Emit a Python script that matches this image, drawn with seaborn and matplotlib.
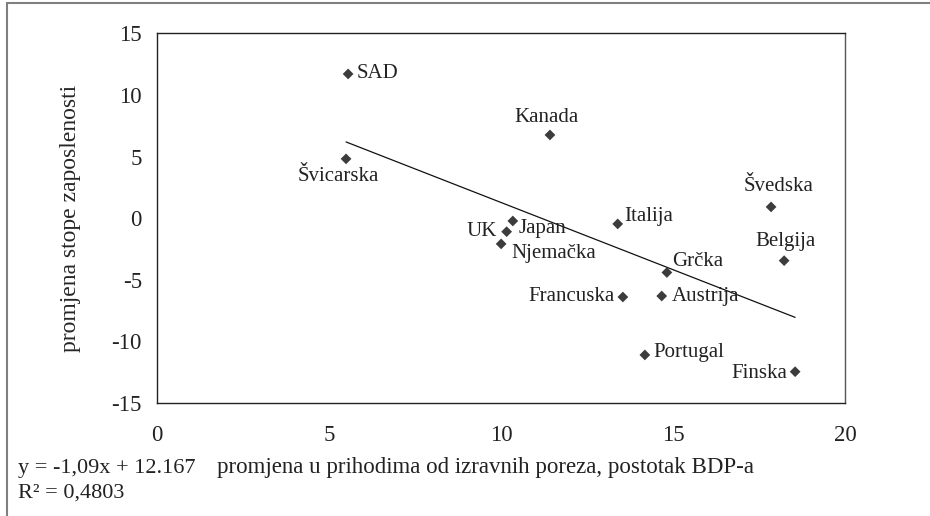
import numpy as np
import pandas as pd
import matplotlib
matplotlib.use("Agg")
import matplotlib.pyplot as plt
from matplotlib.lines import Line2D
import seaborn as sns

# ==================== DATA ====================

countries = ["SAD", "Švicarska", "Kanada", "Švedska", "Belgija", "Grčka",
             "Austrija", "Portugal", "Finska", "UK", "Japan", "Njemačka",
             "Italija", "Francuska"]
tax_change = [5.55, 5.49, 11.42, 17.85, 18.23, 14.82,
              14.67, 14.18, 18.55, 10.16, 10.34, 10.00,
              13.39, 13.54]
employment_change = [11.70, 4.81, 6.75, 0.91, -3.45, -4.41,
                     -6.32, -11.10, -12.46, -1.10, -0.23, -2.09,
                     -0.47, -6.40]

slope = -1.09
intercept = 12.167
r_squared = "0,4803"

x_ticks = [0, 5, 10, 15, 20]
y_ticks = [-15, -10, -5, 0, 5, 10, 15]

# label placement (offset in pixels, horizontal alignment)
label_pos = {
    "SAD": (9, 0, "left"),
    "Švicarska": (-8, -18, "center"),
    "Kanada": (-3, 17, "center"),
    "Švedska": (7, 20, "center"),
    "Belgija": (1, 19, "center"),
    "Grčka": (5, 11, "left"),
    "Austrija": (10, 0, "left"),
    "Portugal": (9, 2, "left"),
    "Finska": (-8, -2, "right"),
    "UK": (-10, 0, "right"),
    "Japan": (6, -8, "left"),
    "Njemačka": (10, -10, "left"),
    "Italija": (7, 7, "left"),
    "Francuska": (-8, 1, "right"),
}

df = pd.DataFrame({"country": countries, "x": tax_change, "y": employment_change})

# ==================== PLOT ====================

sns.set_style("white")
plt.rcParams["font.family"] = ["Liberation Serif", "DejaVu Serif"]
plt.rcParams["text.color"] = "#222222"
plt.rcParams["axes.unicode_minus"] = False

fig = plt.figure(figsize=(9.3, 5.16), dpi=100)
ax = fig.add_axes([0.1691, 0.2190, 0.7395, 0.7165])

sns.scatterplot(data=df, x="x", y="y", marker="D", s=30, color="#3c3c3c",
                edgecolor="none", ax=ax, zorder=3)

# trend line over the data range
xs = np.array([df["x"].min(), df["x"].max()])
ax.plot(xs, slope * xs + intercept, color="#111111", lw=0.9, zorder=2)

for _, row in df.iterrows():
    dx, dy, ha = label_pos[row["country"]]
    ax.annotate(row["country"], (row["x"], row["y"]), xytext=(dx, dy),
                textcoords="offset pixels", ha=ha, va="center", fontsize=15)

ax.set_xlim(0, 20)
ax.set_ylim(-15, 15)
ax.set_xticks(x_ticks)
ax.set_yticks(y_ticks)
ax.tick_params(axis="both", direction="out", length=5, width=1, color="#222222",
               labelsize=16.5, labelcolor="#222222")
ax.tick_params(axis="y", pad=6)
ax.tick_params(axis="x", pad=11)
for side in ["left", "bottom", "top", "right"]:
    ax.spines[side].set_visible(True)
    ax.spines[side].set_color("#222222")
    ax.spines[side].set_linewidth(1.0)
ax.spines["right"].set_color("#555555")

ax.set_xlabel("")
ax.set_ylabel("promjena stope zaposlenosti", fontsize=17, labelpad=22)

fig.text(217 / 930, 1 - 468 / 516,
         "promjena u prihodima od izravnih poreza, postotak BDP-a",
         fontsize=16.5, va="center", ha="left")
fig.text(18 / 930, 1 - 468 / 516, "y = -1,09x + 12.167",
         fontsize=16, va="center", ha="left")
fig.text(18 / 930, 1 - 493 / 516, "R² = " + r_squared,
         fontsize=16, va="center", ha="left")

# outer frame (left and top edges visible)
fig.add_artist(Line2D([7 / 930, 7 / 930], [0, 1 - 3 / 516],
                      transform=fig.transFigure, color="#808080", lw=1.5))
fig.add_artist(Line2D([7 / 930, 1], [1 - 3 / 516, 1 - 3 / 516],
                      transform=fig.transFigure, color="#808080", lw=1.5))

fig.savefig("out.png", dpi=100)
